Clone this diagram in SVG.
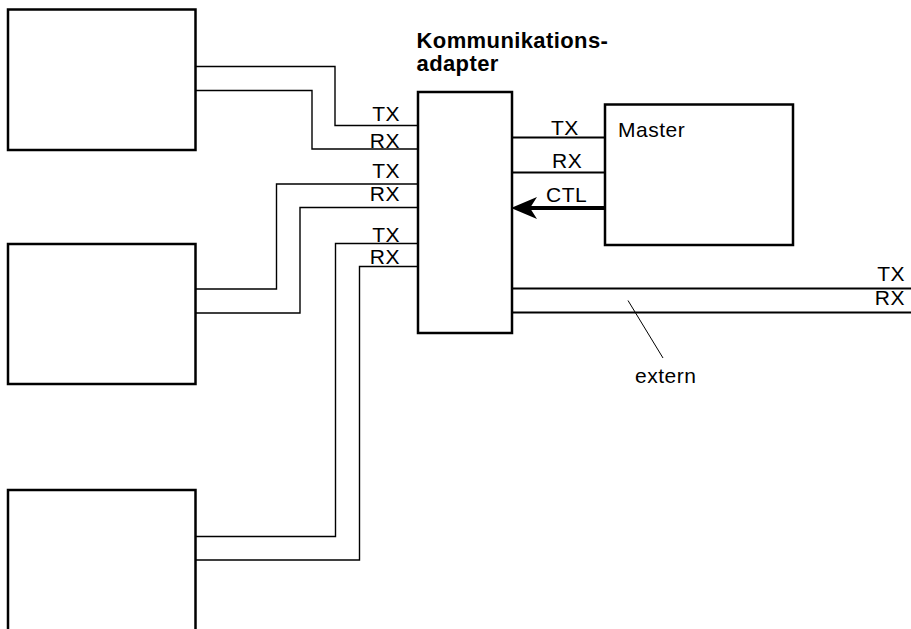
<svg xmlns="http://www.w3.org/2000/svg" width="911" height="629" viewBox="0 0 911 629">
<style>
.box{fill:#fff;stroke:#000;stroke-width:2.5}
.w{fill:none;stroke:#000;stroke-width:1.4}
.wt{fill:none;stroke:#000;stroke-width:2.2}
text{font-family:"Liberation Sans",Arial,sans-serif;font-size:21px;letter-spacing:0.5px;fill:#000}
.r{text-anchor:end}
.b{font-weight:bold;font-size:22px;letter-spacing:0.4px}
</style>
<rect width="911" height="629" fill="#fff"/>
<g id="connectors">
<polyline class="w" points="195.5,66.5 335,66.5 335,125.5 418,125.5"/>
<polyline class="w" points="195.5,90.5 312,90.5 312,149 418,149"/>
<polyline class="w" points="195.5,289 276.5,289 276.5,184 418,184"/>
<polyline class="w" points="195.5,313 300,313 300,207.5 418,207.5"/>
<polyline class="w" points="195.5,536.5 335.5,536.5 335.5,243.5 418,243.5"/>
<polyline class="w" points="195.5,560 359.5,560 359.5,266.5 418,266.5"/>
<line class="wt" x1="512" y1="137.5" x2="605" y2="137.5"/>
<line class="wt" x1="512" y1="172.5" x2="605" y2="172.5"/>
<line x1="530" y1="208" x2="605" y2="208" stroke="#000" stroke-width="4"/>
<polygon points="511,208 537,197 530,208 537,219" fill="#000"/>
<line class="wt" x1="512" y1="288.5" x2="911" y2="288.5"/>
<line class="wt" x1="512" y1="312.5" x2="911" y2="312.5"/>
<line x1="628" y1="300.5" x2="663" y2="358" stroke="#000" stroke-width="1"/>
<text class="r" x="400" y="121">TX</text>
<text class="r" x="400" y="148">RX</text>
<text class="r" x="400" y="178">TX</text>
<text class="r" x="400" y="201">RX</text>
<text class="r" x="400" y="241.5">TX</text>
<text class="r" x="400" y="264">RX</text>
<text x="551" y="135">TX</text>
<text x="552" y="167.5">RX</text>
<text x="546" y="201.5">CTL</text>
<text class="r" x="905" y="281">TX</text>
<text class="r" x="905" y="305">RX</text>
<text x="635" y="383">extern</text>
</g>
<g id="device1"><rect class="box" x="8" y="9.5" width="187.5" height="140.5"/></g>
<g id="device2"><rect class="box" x="8" y="244" width="187.5" height="140"/></g>
<g id="device3"><rect class="box" x="8" y="490" width="187.5" height="145"/></g>
<g id="adapter">
<rect class="box" x="418" y="92" width="94" height="241"/>
<text class="b" x="416.5" y="47.5">Kommunikations-</text>
<text class="b" x="416.5" y="71">adapter</text>
</g>
<g id="master">
<rect class="box" x="605" y="104.5" width="188" height="140.5"/>
<text x="618" y="136.5">Master</text>
</g>
</svg>
